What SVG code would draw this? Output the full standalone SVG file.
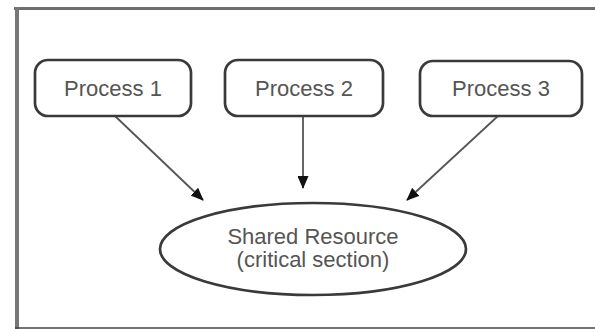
<svg xmlns="http://www.w3.org/2000/svg" width="595" height="329" viewBox="0 0 595 329">
<style>
.box{fill:#fff;stroke:#3a3a3a;stroke-width:2.7}
.lbl{font-family:"Liberation Sans",Arial,sans-serif;font-size:22px;fill:#555;text-anchor:middle}
.conn{stroke:#555;stroke-width:1.8;fill:none}
</style>
<defs>
<marker id="ah" markerWidth="13" markerHeight="11" refX="12" refY="5.5" orient="auto" markerUnits="userSpaceOnUse">
<path d="M0,0 L13,5.5 L0,11 Z" fill="#111"/>
</marker>
</defs>
<rect x="0" y="0" width="595" height="329" fill="#fff"/>
<g id="frame">
<line x1="14" y1="8.5" x2="595" y2="8.5" stroke="#6e6e6e" stroke-width="3"/>
<line x1="17" y1="7" x2="17" y2="329" stroke="#777" stroke-width="4"/>
<line x1="15" y1="328" x2="595" y2="328" stroke="#444" stroke-width="1.5"/>
</g>
<g id="connectors">
<line class="conn" x1="115" y1="116" x2="203" y2="200" marker-end="url(#ah)"/>
<line class="conn" x1="303" y1="116" x2="303" y2="188" marker-end="url(#ah)"/>
<line class="conn" x1="498" y1="116" x2="407" y2="200" marker-end="url(#ah)"/>
</g>
<g id="p1">
<rect class="box" x="35" y="60" width="156" height="56" rx="13"/>
<text class="lbl" x="113" y="96">Process 1</text>
</g>
<g id="p2">
<rect class="box" x="225" y="60" width="158" height="56" rx="13"/>
<text class="lbl" x="304" y="96">Process 2</text>
</g>
<g id="p3">
<rect class="box" x="420" y="61" width="162" height="55" rx="13"/>
<text class="lbl" x="501" y="96">Process 3</text>
</g>
<g id="shared">
<ellipse class="box" cx="313" cy="249" rx="153" ry="46" stroke-width="2.4"/>
<text class="lbl" x="313" y="244">Shared Resource</text>
<text class="lbl" x="313" y="267">(critical section)</text>
</g>
</svg>
